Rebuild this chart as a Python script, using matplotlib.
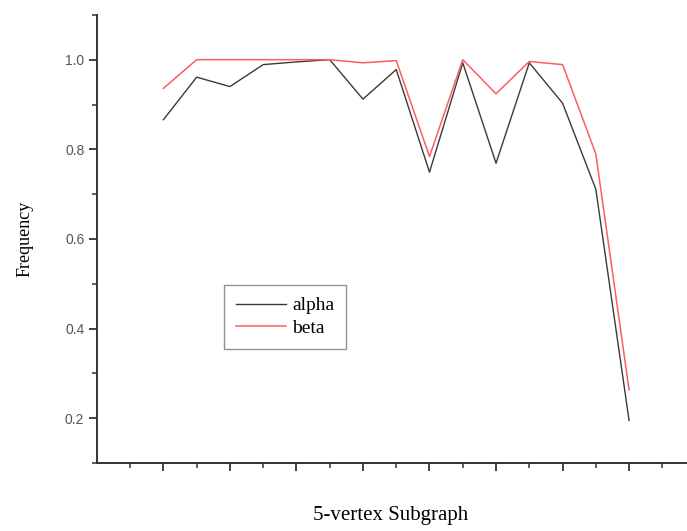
import matplotlib
matplotlib.use("Agg")
import matplotlib.pyplot as plt
import numpy as np
from matplotlib.ticker import FixedLocator, NullFormatter

# subgraph index and observed frequencies
subgraph = np.arange(1, 16)
alpha = [0.866, 0.961, 0.940, 0.989, 0.995, 1.000, 0.912, 0.978, 0.749,
         0.993, 0.769, 0.993, 0.903, 0.711, 0.195]
beta = [0.936, 1.000, 1.000, 1.000, 1.000, 1.000, 0.993, 0.998, 0.784,
        1.000, 0.924, 0.996, 0.989, 0.790, 0.263]

y_major = [0.2, 0.4, 0.6, 0.8, 1.0]
y_minor = [0.1, 0.3, 0.5, 0.7, 0.9, 1.1]

SERIF = ["Liberation Serif", "DejaVu Serif"]
SANS = ["Liberation Sans", "DejaVu Sans"]

fig = plt.figure(figsize=(6.87, 5.31), dpi=100)
ax = fig.add_axes([0.141, 0.128, 0.857, 0.844])

ax.plot(subgraph, alpha, color="#3a3a3a", lw=1.0, label="alpha")
ax.plot(subgraph, beta, color="#ff5c5c", lw=1.1, label="beta")

ax.set_xlim(-1.0, 16.7)
ax.set_ylim(0.1, 1.1)

ax.xaxis.set_major_locator(FixedLocator(range(1, 17, 2)))
ax.xaxis.set_minor_locator(FixedLocator(range(0, 17, 2)))
ax.xaxis.set_major_formatter(NullFormatter())
ax.yaxis.set_major_locator(FixedLocator(y_major))
ax.yaxis.set_minor_locator(FixedLocator(y_minor))
ax.set_yticklabels([f"{v:.1f}" for v in y_major], family=SANS, fontsize=10,
                   color="#555555")

for side in ("top", "right"):
    ax.spines[side].set_visible(False)
for side in ("left", "bottom"):
    ax.spines[side].set_linewidth(1.4)
    ax.spines[side].set_color("#333333")

ax.tick_params(which="major", direction="out", length=6, width=1.3, color="#333333", pad=3)
ax.tick_params(which="minor", direction="out", length=3.5, width=1.1, color="#333333")

ax.set_ylabel("Frequency", family=SERIF, fontsize=13)
ax.yaxis.set_label_coords(-0.108, 0.5)
fig.text(0.569, 0.03, "5-vertex Subgraph", family=SERIF, fontsize=15,
         ha="center", va="center")

leg = ax.legend(loc="upper left", bbox_to_anchor=(0.216, 0.397), frameon=True,
                fancybox=False, prop={"family": SERIF, "size": 14},
                handlelength=2.6, handletextpad=0.3, borderpad=0.6,
                labelspacing=0.25, borderaxespad=0)
leg.get_frame().set_edgecolor("#777777")
leg.get_frame().set_linewidth(1.0)

fig.savefig("out.png", dpi=100, facecolor="white")
